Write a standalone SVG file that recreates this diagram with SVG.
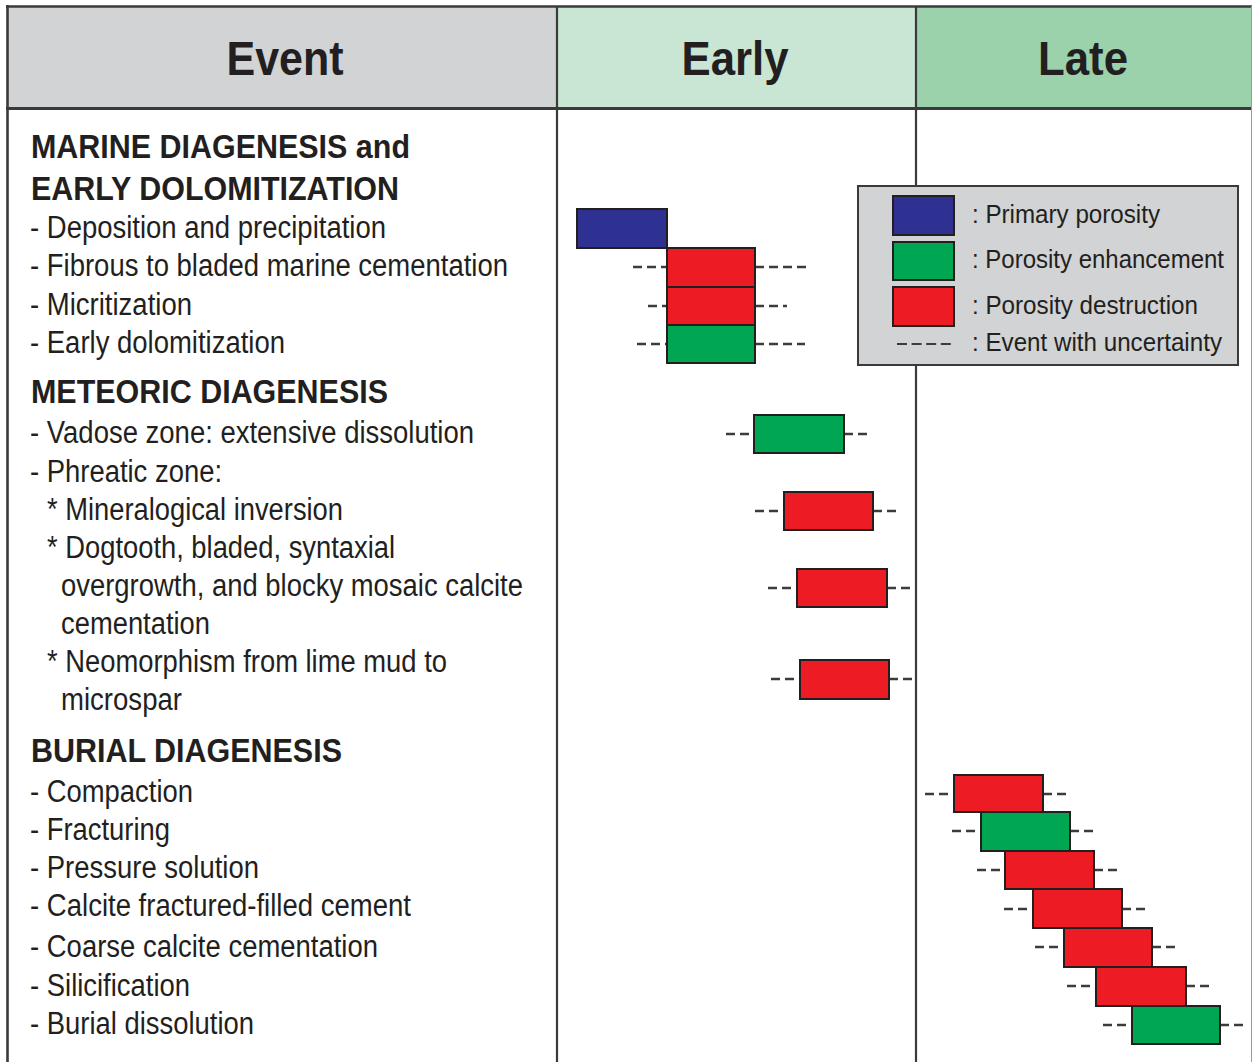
<svg xmlns="http://www.w3.org/2000/svg" width="1252" height="1062" viewBox="0 0 1252 1062">
<style>
text{font-family:"Liberation Sans",Arial,sans-serif;fill:#231f20}
.hd{font-size:48px;font-weight:bold;text-anchor:middle}
.sec{font-size:34px;font-weight:bold}
.it{font-size:31px}
.lg{font-size:26.5px}
.bar{stroke:#231f20;stroke-width:2}
.r{fill:#ed1c24}.g{fill:#00a651}.b{fill:#2e3192}
.d{stroke:#3c3c3c;stroke-width:2.6;stroke-dasharray:9 5;fill:none}
.grid{stroke:#3a3a3a;fill:none}
</style>
<rect width="1252" height="1062" fill="#fff"/>
<g id="header">
<rect x="7" y="6" width="550" height="102" fill="#d1d3d4"/>
<rect x="557" y="6" width="359" height="102" fill="#c9e6d4"/>
<rect x="916" y="6" width="336" height="102" fill="#9bd1ab"/>
<text class="hd" x="285" y="75" textLength="117" lengthAdjust="spacingAndGlyphs">Event</text>
<text class="hd" x="735" y="75" textLength="107" lengthAdjust="spacingAndGlyphs">Early</text>
<text class="hd" x="1083" y="75" textLength="90" lengthAdjust="spacingAndGlyphs">Late</text>
</g>
<g id="grid">
<line class="grid" x1="6" y1="6.5" x2="1252" y2="6.5" stroke-width="2.6"/>
<line class="grid" x1="7.5" y1="5" x2="7.5" y2="1062" stroke-width="2.6"/>
<line class="grid" x1="6" y1="108.5" x2="1252" y2="108.5" stroke-width="3"/>
<line class="grid" x1="557" y1="6" x2="557" y2="1062" stroke-width="2.2"/>
<line class="grid" x1="916" y1="6" x2="916" y2="1062" stroke-width="2.2"/>
<line x1="1251.5" y1="6" x2="1251.5" y2="1062" stroke="#9a9a9a" stroke-width="1"/>
</g>
<g id="events">
<g id="sec-marine">
<text class="sec" x="31" y="158" textLength="379" lengthAdjust="spacingAndGlyphs">MARINE DIAGENESIS and</text>
<text class="sec" x="31" y="200" textLength="368" lengthAdjust="spacingAndGlyphs">EARLY DOLOMITIZATION</text>
<text class="it" x="30" y="238" textLength="356" lengthAdjust="spacingAndGlyphs">- Deposition and precipitation</text>
<text class="it" x="30" y="276" textLength="478" lengthAdjust="spacingAndGlyphs">- Fibrous to bladed marine cementation</text>
<text class="it" x="30" y="315" textLength="162" lengthAdjust="spacingAndGlyphs">- Micritization</text>
<text class="it" x="30" y="353" textLength="255" lengthAdjust="spacingAndGlyphs">- Early dolomitization</text>
</g>
<g id="sec-meteoric">
<text class="sec" x="31" y="403" textLength="357" lengthAdjust="spacingAndGlyphs">METEORIC DIAGENESIS</text>
<text class="it" x="30" y="443" textLength="444" lengthAdjust="spacingAndGlyphs">- Vadose zone: extensive dissolution</text>
<text class="it" x="30" y="482" textLength="192" lengthAdjust="spacingAndGlyphs">- Phreatic zone:</text>
<text class="it" x="47" y="520" textLength="296" lengthAdjust="spacingAndGlyphs">* Mineralogical inversion</text>
<text class="it" x="47" y="558" textLength="348" lengthAdjust="spacingAndGlyphs">* Dogtooth, bladed, syntaxial</text>
<text class="it" x="61" y="596" textLength="462" lengthAdjust="spacingAndGlyphs">overgrowth, and blocky mosaic calcite</text>
<text class="it" x="61" y="634" textLength="149" lengthAdjust="spacingAndGlyphs">cementation</text>
<text class="it" x="47" y="672" textLength="400" lengthAdjust="spacingAndGlyphs">* Neomorphism from lime mud to</text>
<text class="it" x="61" y="710" textLength="121" lengthAdjust="spacingAndGlyphs">microspar</text>
</g>
<g id="sec-burial">
<text class="sec" x="31" y="762" textLength="311" lengthAdjust="spacingAndGlyphs">BURIAL DIAGENESIS</text>
<text class="it" x="30" y="802" textLength="163" lengthAdjust="spacingAndGlyphs">- Compaction</text>
<text class="it" x="30" y="840" textLength="140" lengthAdjust="spacingAndGlyphs">- Fracturing</text>
<text class="it" x="30" y="878" textLength="229" lengthAdjust="spacingAndGlyphs">- Pressure solution</text>
<text class="it" x="30" y="916" textLength="381" lengthAdjust="spacingAndGlyphs">- Calcite fractured-filled cement</text>
<text class="it" x="30" y="957" textLength="348" lengthAdjust="spacingAndGlyphs">- Coarse calcite cementation</text>
<text class="it" x="30" y="996" textLength="160" lengthAdjust="spacingAndGlyphs">- Silicification</text>
<text class="it" x="30" y="1034" textLength="224" lengthAdjust="spacingAndGlyphs">- Burial dissolution</text>
</g>
</g>
<g id="connectors">
<line class="d" x1="633" y1="267" x2="667" y2="267"/><line class="d" x1="755" y1="267" x2="808" y2="267"/>
<line class="d" x1="648" y1="306" x2="667" y2="306"/><line class="d" x1="755" y1="306" x2="787" y2="306"/>
<line class="d" x1="637" y1="344" x2="667" y2="344"/><line class="d" x1="755" y1="344" x2="805" y2="344"/>
<line class="d" x1="726" y1="434" x2="754" y2="434"/><line class="d" x1="844" y1="434" x2="867" y2="434"/>
<line class="d" x1="755" y1="511" x2="784" y2="511"/><line class="d" x1="873" y1="511" x2="897" y2="511"/>
<line class="d" x1="768" y1="588" x2="797" y2="588"/><line class="d" x1="887" y1="588" x2="911" y2="588"/>
<line class="d" x1="771" y1="679" x2="800" y2="679"/><line class="d" x1="889" y1="679" x2="913" y2="679"/>
<line class="d" x1="925" y1="794" x2="954" y2="794"/><line class="d" x1="1043" y1="794" x2="1067" y2="794"/>
<line class="d" x1="952" y1="831" x2="981" y2="831"/><line class="d" x1="1070" y1="831" x2="1093" y2="831"/>
<line class="d" x1="977" y1="870" x2="1005" y2="870"/><line class="d" x1="1094" y1="870" x2="1118" y2="870"/>
<line class="d" x1="1004" y1="909" x2="1033" y2="909"/><line class="d" x1="1122" y1="909" x2="1147" y2="909"/>
<line class="d" x1="1035" y1="947" x2="1064" y2="947"/><line class="d" x1="1152" y1="947" x2="1177" y2="947"/>
<line class="d" x1="1067" y1="986" x2="1096" y2="986"/><line class="d" x1="1186" y1="986" x2="1209" y2="986"/>
<line class="d" x1="1103" y1="1025" x2="1132" y2="1025"/><line class="d" x1="1220" y1="1025" x2="1245" y2="1025"/>
</g>
<g id="bars">
<rect id="bar-deposition" class="bar b" x="577" y="209" width="90" height="39"/>
<rect id="bar-fibrous" class="bar r" x="667" y="248" width="88" height="39"/>
<rect id="bar-micritization" class="bar r" x="667" y="287" width="88" height="38"/>
<rect id="bar-early-dolo" class="bar g" x="667" y="325" width="88" height="38"/>
<rect id="bar-vadose" class="bar g" x="754" y="415" width="90" height="38"/>
<rect id="bar-mineralogical" class="bar r" x="784" y="492" width="89" height="38"/>
<rect id="bar-dogtooth" class="bar r" x="797" y="569" width="90" height="38"/>
<rect id="bar-neomorphism" class="bar r" x="800" y="660" width="89" height="39"/>
<rect id="bar-compaction" class="bar r" x="954" y="775" width="89" height="37"/>
<rect id="bar-fracturing" class="bar g" x="981" y="812" width="89" height="39"/>
<rect id="bar-pressure" class="bar r" x="1005" y="851" width="89" height="38"/>
<rect id="bar-calcite" class="bar r" x="1033" y="889" width="89" height="39"/>
<rect id="bar-coarse" class="bar r" x="1064" y="928" width="88" height="39"/>
<rect id="bar-silicification" class="bar r" x="1096" y="967" width="90" height="39"/>
<rect id="bar-burial-diss" class="bar g" x="1132" y="1006" width="88" height="38"/>
</g>
<g id="legend">
<rect x="858" y="186" width="380" height="179" fill="#d1d3d4" stroke="#3a3a3a" stroke-width="2"/>
<rect class="bar b" x="893" y="196" width="61" height="39"/>
<rect class="bar g" x="893" y="242" width="61" height="38"/>
<rect class="bar r" x="893" y="287" width="61" height="39"/>
<line x1="897" y1="344" x2="951" y2="344" stroke="#3c3c3c" stroke-width="2" stroke-dasharray="10 4.6"/>
<text class="lg" x="972" y="223" textLength="188" lengthAdjust="spacingAndGlyphs">: Primary porosity</text>
<text class="lg" x="972" y="268" textLength="252" lengthAdjust="spacingAndGlyphs">: Porosity enhancement</text>
<text class="lg" x="972" y="314" textLength="226" lengthAdjust="spacingAndGlyphs">: Porosity destruction</text>
<text class="lg" x="972" y="351" textLength="250" lengthAdjust="spacingAndGlyphs">: Event with uncertainty</text>
</g>
</svg>
